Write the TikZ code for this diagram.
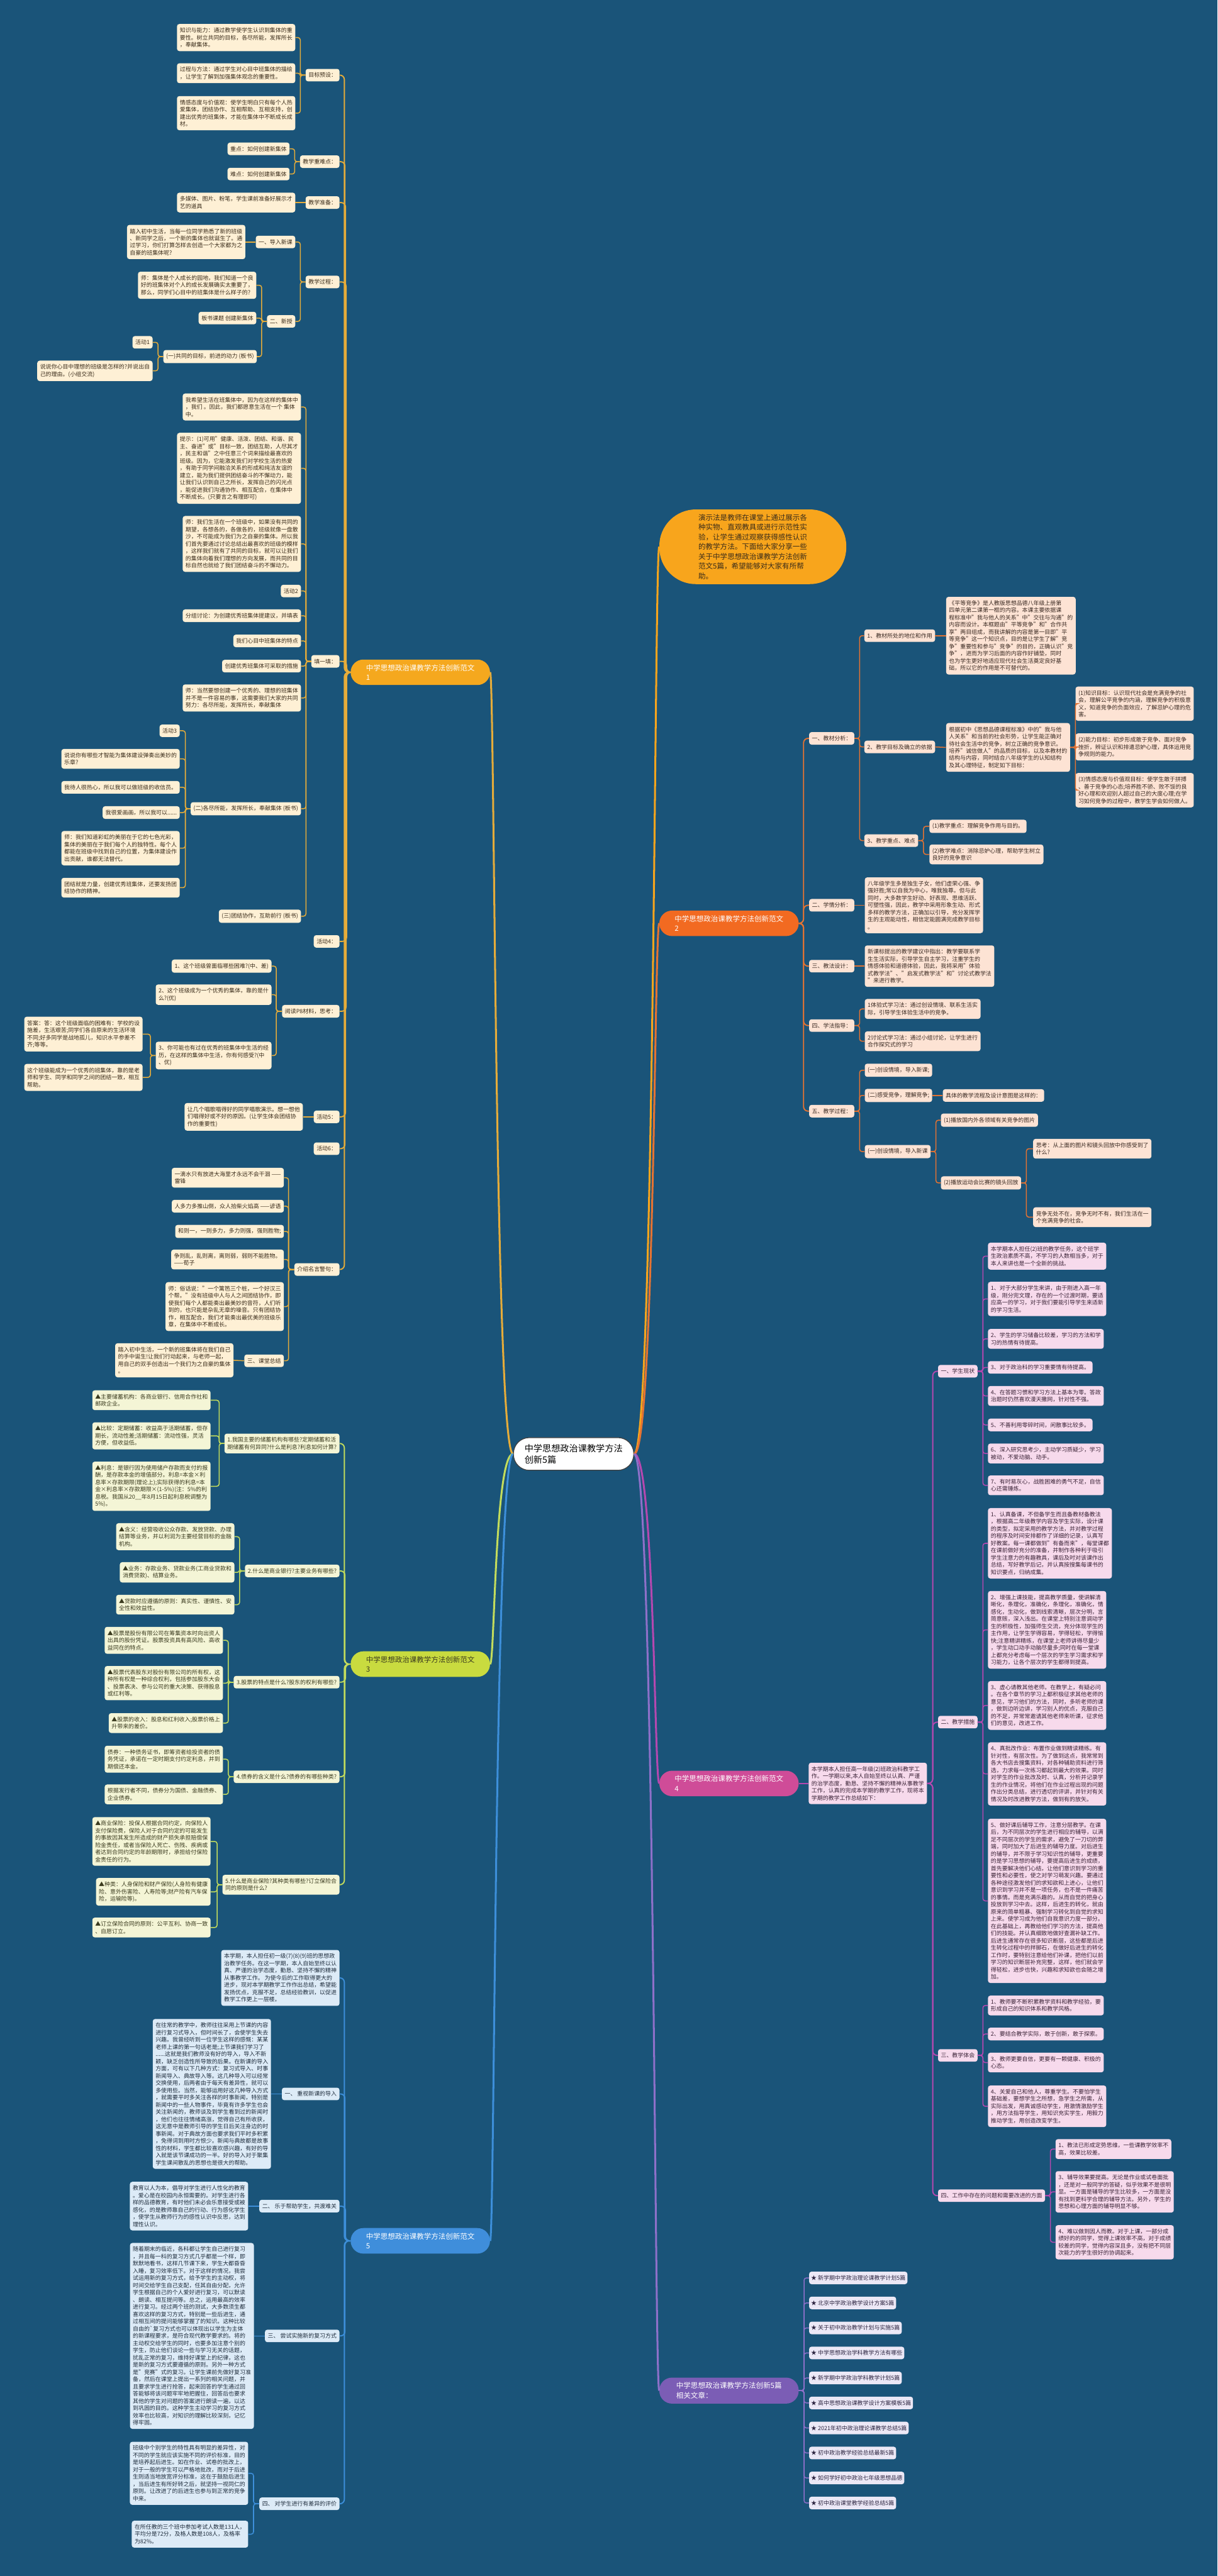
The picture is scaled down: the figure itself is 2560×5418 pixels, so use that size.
\documentclass[tikz,border=0pt]{standalone}
\usepackage{fontspec}
\setmainfont{Noto Sans CJK SC}
\usetikzlibrary{calc}

\definecolor{bg}{HTML}{1A5479}
\definecolor{fillA}{HTML}{FEF0D5}\definecolor{inkA}{HTML}{3A2C1A}\definecolor{lineA}{HTML}{E6AC3A}\definecolor{topA}{HTML}{F5A81E}
\definecolor{fillB}{HTML}{FDE3D4}\definecolor{inkB}{HTML}{3A2A22}\definecolor{lineB}{HTML}{E57332}\definecolor{topB}{HTML}{F26A21}
\definecolor{fillC}{HTML}{F4F5D6}\definecolor{inkC}{HTML}{3A3A1E}\definecolor{lineC}{HTML}{C3DC5C}\definecolor{topC}{HTML}{C9DB3F}
\definecolor{fillD}{HTML}{F7DAEC}\definecolor{inkD}{HTML}{3A2236}\definecolor{lineD}{HTML}{B548B0}\definecolor{topD}{HTML}{CF4C98}
\definecolor{fillE}{HTML}{DDEBF7}\definecolor{inkE}{HTML}{1F2D3D}\definecolor{lineE}{HTML}{3D8FDA}\definecolor{topE}{HTML}{3F8EDB}
\definecolor{fillR}{HTML}{ECE8F6}\definecolor{inkR}{HTML}{2C2440}\definecolor{lineR}{HTML}{8E70C9}\definecolor{topR}{HTML}{7B5DB5}
\definecolor{introfill}{HTML}{F8A51C}

\newcommand\leaffont{\fontsize{10.1}{12.97}\selectfont}
\newcommand\topicfont{\fontsize{13}{17.6}\selectfont}
\newcommand\hubfont{\fontsize{16}{21}\selectfont}

\tikzset{
  leaf/.style={rounded corners=1.5mm, inner xsep=1.8mm, inner ysep=2.3mm, align=left, font=\leaffont},
  boxA/.style={leaf, fill=fillA, text=inkA},
  boxB/.style={leaf, fill=fillB, text=inkB},
  boxC/.style={leaf, fill=fillC, text=inkC},
  boxD/.style={leaf, fill=fillD, text=inkD},
  boxE/.style={leaf, fill=fillE, text=inkE},
  boxR/.style={leaf, fill=fillR, text=inkR},
  topic/.style={rounded corners=8mm, inner xsep=8.4mm, inner ysep=3mm, minimum width=87.9mm, align=left, font=\topicfont},
  linkA/.style={draw=lineA, line width=0.6mm, rounded corners=1.5mm},
  linkB/.style={draw=lineB, line width=0.6mm, rounded corners=1.5mm},
  linkC/.style={draw=lineC, line width=0.6mm, rounded corners=1.5mm},
  linkD/.style={draw=lineD, line width=0.6mm, rounded corners=1.5mm},
  linkE/.style={draw=lineE, line width=0.6mm, rounded corners=1.5mm},
  linkR/.style={draw=lineR, line width=0.6mm, rounded corners=1.5mm},
  trunk/.style={line width=0.75mm, rounded corners=2.8mm},
  hub/.style={line width=1.2mm}
}

\begin{document}
\begin{tikzpicture}[x=0.3mm,y=-0.3mm]
\fill[bg] (0,0) rectangle (2560,5418);
\useasboundingbox (0,0) rectangle (2560,5418);

% ---- centre ----
\node[fill=white, draw=black!75, line width=0.5mm, text=black, rounded corners=10mm, inner xsep=7mm, inner ysep=4mm, align=left, font=\hubfont] (ctr) at (1206,3058) {中学思想政治课教学方法\\创新5篇};

% ---- main topics ----
\node[topic, fill=topA, text=white, anchor=west] (fA) at (737,1414) {中学思想政治课教学方法创新范文\\1};
\node[topic, fill=topB, text=white, anchor=west] (fB) at (1386,1942) {中学思想政治课教学方法创新范文\\2};
\node[topic, fill=topC, text=inkC, anchor=west] (fC) at (737,3500) {中学思想政治课教学方法创新范文\\3};
\node[topic, fill=topD, text=white, anchor=west] (fD) at (1386,3751) {中学思想政治课教学方法创新范文\\4};
\node[topic, fill=topE, text=white, anchor=west] (fE) at (737,4713) {中学思想政治课教学方法创新范文\\5};
\node[topic, fill=topR, text=white, anchor=west] (fR) at (1386,5028) {中学思想政治课教学方法创新5篇\\相关文章：};
\node[fill=introfill, text=inkA, rounded corners=23mm, minimum width=117.9mm, minimum height=47.1mm, align=left, font=\topicfont, anchor=west] (intro) at (1386,1150) {演示法是教师在课堂上通过展示各\\种实物、直观教具或进行示范性实\\验，让学生通过观察获得感性认识\\的教学方法。下面给大家分享一些\\关于中学思想政治课教学方法创新\\范文5篇，希望能够对大家有所帮\\助。};

\draw[hub, lineA] (ctr.west) .. controls (1040,3058) and (1040,1414) .. (fA.east);
\draw[hub, lineC] (ctr.west) .. controls (1040,3058) and (1040,3500) .. (fC.east);
\draw[hub, lineE] (ctr.west) .. controls (1040,3058) and (1040,4713) .. (fE.east);
\draw[hub, introfill] (ctr.east) .. controls (1376,3058) and (1376,1150) .. (intro.west);
\draw[hub, lineB] (ctr.east) .. controls (1376,3058) and (1376,1942) .. (fB.west);
\draw[hub, lineD] (ctr.east) .. controls (1376,3058) and (1376,3751) .. (fD.west);
\draw[hub, lineR] (ctr.east) .. controls (1376,3058) and (1376,5028) .. (fR.west);

% ================= 范文1 =================
\node[boxA, anchor=east] (aG1) at (714,158) {目标预设：};
\node[boxA, anchor=east] (aG2) at (714,340) {教学重难点：};
\node[boxA, anchor=east] (aG3) at (714,426) {教学准备：};
\node[boxA, anchor=east] (aG4) at (714,593) {教学过程：};
\node[boxA, anchor=east] (aG5) at (714,1391) {填一填：};
\node[boxA, anchor=east] (aG6) at (714,1980) {活动4：};
\node[boxA, anchor=east] (aG7) at (714,2127) {阅读P8材料，思考：};
\node[boxA, anchor=east] (aG8) at (714,2349) {活动5：};
\node[boxA, anchor=east] (aG9) at (714,2416) {活动6：};
\node[boxA, anchor=east] (aG10) at (714,2670) {介绍名言警句：};
\foreach \c/\k in {aG1/0,aG2/1,aG3/2,aG4/3,aG5/4,aG6/4,aG7/3,aG8/2,aG9/1,aG10/0}
  \draw[trunk, lineA] (\c.east) -| (724+\k*1.2,1414) -- (fA.west);

\node[boxA, anchor=east] (aK1) at (621,79) {知识与能力：通过教学使学生认识到集体的重\\要性。树立共同的目标，各尽所能，发挥所长\\，奉献集体。};
\node[boxA, anchor=east] (aK2) at (621,154) {过程与方法：通过学生对心目中班集体的描绘\\，让学生了解到加强集体观念的重要性。};
\node[boxA, anchor=east] (aK3) at (621,238) {情感态度与价值观：使学生明白只有每个人热\\爱集体，团结协作、互相帮助、互相支持，创\\建出优秀的班集体，才能在集体中不断成长成\\材。};
\foreach \c in {aK1,aK2,aK3} \draw[linkA] (aG1.west) -- ++(-11,0) |- (\c.east);

\node[boxA, anchor=east] (aZ1) at (609,313) {重点：如何创建新集体};
\node[boxA, anchor=east] (aZ2) at (609,366) {难点：如何创建新集体};
\foreach \c in {aZ1,aZ2} \draw[linkA] (aG2.west) -- ++(-11,0) |- (\c.east);

\node[boxA, anchor=east] (aP1) at (621,426) {多媒体、图片、粉笔，学生课前准备好展示才\\艺的道具};
\draw[linkA] (aG3.west) -- (aP1.east);

\node[boxA, anchor=east] (aS1) at (621,509) {一、导入新课};
\node[boxA, anchor=east] (aS2) at (621,676) {二、新授};
\foreach \c in {aS1,aS2} \draw[linkA] (aG4.west) -- ++(-11,0) |- (\c.east);
\node[boxA, anchor=east] (aS1a) at (516,509) {踏入初中生活，当每一位同学熟悉了新的班级\\、新同学之后，一个新的集体也就诞生了。通\\过学习，你们打算怎样去创造一个大家都为之\\自豪的班集体呢?};
\draw[linkA] (aS1.west) -- (aS1a.east);

\node[boxA, anchor=east] (aN1) at (539,600) {师：集体是个人成长的园地，我们知道一个良\\好的班集体对个人的成长发展确实太重要了，\\那么，同学们心目中的班集体是什么样子的?};
\node[boxA, anchor=east] (aN2) at (539,669) {板书课题 创建新集体};
\node[boxA, anchor=east] (aN3) at (540,750) {(一)共同的目标，前进的动力 (板书)};
\foreach \c in {aN1,aN2,aN3} \draw[linkA] (aS2.west) -- ++(-11,0) |- (\c.east);
\node[boxA, anchor=east] (aN3a) at (321,720) {活动1};
\node[boxA, anchor=east] (aN3b) at (321,780) {说说你心目中理想的班级是怎样的?并说出自\\己的理由。(小组交流)};
\foreach \c in {aN3a,aN3b} \draw[linkA] (aN3.west) -- ++(-11,0) |- (\c.east);

\node[boxA, anchor=east] (aT1) at (633,856) {我希望生活在班集体中，因为在这样的集体中\\，我们 。因此，我们都愿意生活在一个 集体\\中。};
\node[boxA, anchor=east] (aT2) at (633,985) {提示：(1)可用"健康、活泼、团结、和谐、民\\主、奋进"或"目标一致，团结互助，人尽其才\\，民主和谐"之中任意三个词来描绘最喜欢的\\班级。因为，它能激发我们对学校生活的热爱\\，有助于同学间融洽关系的形成和纯洁友谊的\\建立，能为我们提供团结奋斗的不懈动力，能\\让我们认识到自己之所长，发挥自己的闪光点\\，能促进我们沟通协作、相互配合，在集体中\\不断成长。(只要言之有理即可)};
\node[boxA, anchor=east] (aT3) at (633,1144) {师：我们生活在一个班级中，如果没有共同的\\期望，各想各的，各做各的，班级就像一盘散\\沙，不可能成为我们为之自豪的集体。所以我\\们首先要通过讨论总结出最喜欢的班级的模样\\，这样我们就有了共同的目标，就可以让我们\\的集体向着我们理想的方向发展，而共同的目\\标自然也就给了我们团结奋斗的不懈动力。};
\node[boxA, anchor=east] (aT4) at (633,1243) {活动2};
\node[boxA, anchor=east] (aT5) at (633,1295) {分组讨论：为创建优秀班集体提建议，并填表};
\node[boxA, anchor=east] (aT6) at (633,1348) {我们心目中班集体的特点};
\node[boxA, anchor=east] (aT7) at (633,1401) {创建优秀班集体可采取的措施};
\node[boxA, anchor=east] (aT8) at (633,1468) {师：当然要想创建一个优秀的、理想的班集体\\并不是一件容易的事，这需要我们大家的共同\\努力：各尽所能，发挥所长，奉献集体};
\node[boxA, anchor=east] (aT9) at (633,1701) {(二)各尽所能，发挥所长，奉献集体 (板书)};
\node[boxA, anchor=east] (aT10) at (633,1927) {(三)团结协作，互助前行 (板书)};
\foreach \c in {aT1,aT2,aT3,aT4,aT5,aT6,aT7,aT8,aT9,aT10} \draw[linkA] (aG5.west) -- ++(-11,0) |- (\c.east);

\node[boxA, anchor=east] (aU1) at (378,1537) {活动3};
\node[boxA, anchor=east] (aU2) at (378,1596) {说说你有哪些才智能为集体建设弹奏出美妙的\\乐章?};
\node[boxA, anchor=east] (aU3) at (378,1656) {我待人很热心，所以我可以做班级的收信员。};
\node[boxA, anchor=east] (aU4) at (378,1709) {我很爱画画，所以我可以......};
\node[boxA, anchor=east] (aU5) at (378,1784) {师：我们知道彩虹的美丽在于它的七色光彩，\\集体的美丽在于我们每个人的独特性。每个人\\都能在班级中找到自己的位置，为集体建设作\\出贡献，谁都无法替代。};
\node[boxA, anchor=east] (aU6) at (378,1867) {团结就是力量，创建优秀班集体，还要发扬团\\结协作的精神。};
\foreach \c in {aU1,aU2,aU3,aU4,aU5,aU6} \draw[linkA] (aT9.west) -- ++(-11,0) |- (\c.east);

\node[boxA, anchor=east] (aR1) at (571,2032) {1、这个班级曾面临哪些困难?(中、差)};
\node[boxA, anchor=east] (aR2) at (571,2092) {2、这个班级成为一个优秀的集体，靠的是什\\么?(优)};
\node[boxA, anchor=east] (aR3) at (571,2220) {3、你可能也有过在优秀的班集体中生活的经\\历，在这样的集体中生活，你有何感受?(中\\、优)};
\foreach \c in {aR1,aR2,aR3} \draw[linkA] (aG7.west) -- ++(-12,0) |- (\c.east);
\node[boxA, anchor=east] (aR3a) at (300,2175) {答案：答：这个班级面临的困难有：学校的设\\施差，生活艰苦;同学们各自原来的生活环境\\不同;好多同学是战地孤儿，知识水平参差不\\齐;等等。};
\node[boxA, anchor=east] (aR3b) at (300,2266) {这个班级能成为一个优秀的班集体，靠的是老\\师和学生、同学和同学之间的团结一致，相互\\帮助。};
\foreach \c in {aR3a,aR3b} \draw[linkA] (aR3.west) -- ++(-11,0) |- (\c.east);

\node[boxA, anchor=east] (aH5) at (637,2349) {让几个唱歌唱得好的同学唱歌演示。想一想他\\们唱得好或不好的原因。(让学生体会团结协\\作的重要性)};
\draw[linkA] (aG8.west) -- (aH5.east);

\node[boxA, anchor=east] (aM1) at (597,2477) {一滴水只有放进大海里才永远不会干涸 ——\\雷锋};
\node[boxA, anchor=east] (aM2) at (597,2537) {人多力多推山倒，众人拾柴火焰高 ——谚语};
\node[boxA, anchor=east] (aM3) at (597,2590) {和则一，一则多力，多力则强，强则胜物;};
\node[boxA, anchor=east] (aM4) at (597,2649) {争则乱，乱则离，离则弱，弱则不能胜物。\\——荀子};
\node[boxA, anchor=east] (aM5) at (597,2748) {师：俗话说："一个篱笆三个桩，一个好汉三\\个帮。"没有班级中人与人之间团结协作，即\\使我们每个人都能奏出最美妙的音符，人们听\\到的，也只能是杂乱无章的噪音。只有团结协\\作，相互配合，我们才能奏出最优美的班级乐\\章，在集体中不断成长。};
\node[boxA, anchor=east] (aM6) at (597,2862) {三、课堂总结};
\foreach \c in {aM1,aM2,aM3,aM4,aM5,aM6} \draw[linkA] (aG10.west) -- ++(-12,0) |- (\c.east);
\node[boxA, anchor=east] (aM6a) at (491,2861) {踏入初中生活，一个新的班集体将在我们自己\\的手中诞生!让我们行动起来，与老师一起，\\用自己的双手创造出一个我们为之自豪的集体\\。};
\draw[linkA] (aM6.west) -- (aM6a.east);

% ================= 范文2 =================
\node[boxB, anchor=west] (bG1) at (1701,1553) {一、教材分析：};
\node[boxB, anchor=west] (bG2) at (1701,1904) {二、学情分析：};
\node[boxB, anchor=west] (bG3) at (1701,2032) {三、教法设计：};
\node[boxB, anchor=west] (bG4) at (1701,2157) {四、学法指导：};
\node[boxB, anchor=west] (bG5) at (1701,2337) {五、教学过程：};
\foreach \c in {bG1,bG2,bG3,bG4,bG5} \draw[trunk, lineB] (fB.east) -- ++(10,0) |- (\c.west);

\node[boxB, anchor=west] (bA1) at (1817,1337) {1、教材所处的地位和作用};
\node[boxB, anchor=west] (bA2) at (1817,1571) {2、教学目标及确立的依据};
\node[boxB, anchor=west] (bA3) at (1817,1768) {3、教学重点、难点};
\foreach \c in {bA1,bA2,bA3} \draw[linkB] (bG1.east) -- ++(11,0) |- (\c.west);
\node[boxB, anchor=west] (bA1a) at (1989,1337) {《平等竞争》是人教版思想品德八年级上册第\\四单元第二课第一框的内容。本课主要依据课\\程标准中"我与他人的关系"中"交往与沟通"的\\内容而设计。本框题由"平等竞争"和"合作共\\享"两目组成，而我讲解的内容是第一目即"平\\等竞争"这一个知识点，目的是让学生了解"竞\\争"重要性和参与"竞争"的目的，正确认识"竞\\争"，进而为学习后面的内容作好铺垫，同时\\也为学生更好地适应现代社会生活奠定良好基\\础，所以它的作用是不可替代的。};
\draw[linkB] (bA1.east) -- (bA1a.west);
\node[boxB, anchor=west] (bA2a) at (1989,1572) {根据初中《思想品德课程标准》中的"我与他\\人关系"和当前的社会形势，让学生能正确对\\待社会生活中的竞争，树立正确的竞争意识。\\培养"诚信做人"的品质的目标，以及本教材的\\结构与内容，同时结合八年级学生的认知结构\\及其心理特征，制定如下目标：};
\draw[linkB] (bA2.east) -- (bA2a.west);
\node[boxB, anchor=west] (bO1) at (2261,1480) {(1)知识目标：认识现代社会是充满竞争的社\\会，理解公平竞争的内涵，理解竞争的积极意\\义，知道竞争的负面效应，了解忌妒心理的危\\害。};
\node[boxB, anchor=west] (bO2) at (2261,1571) {(2)能力目标：初步形成敢于竞争、面对竞争\\挫折，辨证认识和排遣忌妒心理，具体运用竞\\争规则的能力。};
\node[boxB, anchor=west] (bO3) at (2261,1662) {(3)情感态度与价值观目标：使学生敢于拼搏\\、善于竞争的心态;培养胜不骄、败不馁的良\\好心理和欢迎别人超过自己的大度心理;在学\\习如何竞争的过程中，教学生学会如何做人。};
\foreach \c in {bO1,bO2,bO3} \draw[linkB] (bA2a.east) -- ++(11,0) |- (\c.west);
\node[boxB, anchor=west] (bD1) at (1954,1738) {(1)教学重点：理解竞争作用与目的。};
\node[boxB, anchor=west] (bD2) at (1954,1797) {(2)教学难点：消除忌妒心理，帮助学生树立\\良好的竞争意识};
\foreach \c in {bD1,bD2} \draw[linkB] (bA3.east) -- ++(11,0) |- (\c.west);

\node[boxB, anchor=west] (bX) at (1818,1904) {八年级学生多是独生子女，他们虚荣心强、争\\强好胜;常以自我为中心，唯我独尊。但与此\\同时，大多数学生好动、好表现、思维活跃、\\可塑性强，因此，教学中采用形象生动、形式\\多样的教学方法，正确加以引导，充分发挥学\\生的主观能动性，相信定能圆满完成教学目标\\。};
\draw[linkB] (bG2.east) -- (bX.west);
\node[boxB, anchor=west] (bY) at (1818,2032) {新课标提出的教学建议中指出：教学要联系学\\生生活实际，引导学生自主学习，注重学生的\\情感体验和道德体验，因此，我将采用"体验\\式教学法"、"启发式教学法"和"讨论式教学法\\"来进行教学。};
\draw[linkB] (bG3.east) -- (bY.west);
\node[boxB, anchor=west] (bF1) at (1818,2122) {1体验式学习法：通过创设情境、联系生活实\\际，引导学生体验生活中的竞争。};
\node[boxB, anchor=west] (bF2) at (1818,2190) {2讨论式学习法：通过小组讨论，让学生进行\\合作探究式的学习};
\foreach \c in {bF1,bF2} \draw[linkB] (bG4.east) -- ++(11,0) |- (\c.west);

\node[boxB, anchor=west] (bP1) at (1818,2251) {(一)创设情境，导入新课;};
\node[boxB, anchor=west] (bP2) at (1818,2304) {(二)感受竞争，理解竞争;};
\node[boxB, anchor=west] (bP3) at (1818,2422) {(一)创设情境，导入新课};
\foreach \c in {bP1,bP2,bP3} \draw[linkB] (bG5.east) -- ++(11,0) |- (\c.west);
\node[boxB, anchor=west] (bP2a) at (1982,2304) {具体的教学流程及设计意图是这样的：};
\draw[linkB] (bP2.east) -- (bP2a.west);
\node[boxB, anchor=west] (bQ1) at (1978,2356) {(1)播放国内外各领域有关竞争的图片};
\node[boxB, anchor=west] (bQ2) at (1978,2488) {(2)播放运动会比赛的镜头回放};
\foreach \c in {bQ1,bQ2} \draw[linkB] (bP3.east) -- ++(11,0) |- (\c.west);
\node[boxB, anchor=west] (bQ2a) at (2172,2416) {思考：从上面的图片和镜头回放中你感受到了\\什么?};
\node[boxB, anchor=west] (bQ2b) at (2172,2560) {竞争无处不在，竞争无时不有，我们生活在一\\个充满竞争的社会。};
\foreach \c in {bQ2a,bQ2b} \draw[linkB] (bQ2.east) -- ++(11,0) |- (\c.west);

% ================= 范文3 =================
\node[boxC, anchor=east] (cQ1) at (714,3036) {1.我国主要的储蓄机构有哪些?定期储蓄和活\\期储蓄有何异同?什么是利息?利息如何计算?};
\node[boxC, anchor=east] (cQ2) at (714,3304) {2.什么是商业银行?主要业务有哪些?};
\node[boxC, anchor=east] (cQ3) at (714,3538) {3.股票的特点是什么?股东的权利有哪些?};
\node[boxC, anchor=east] (cQ4) at (714,3737) {4.债券的含义是什么?债券的有哪些种类?};
\node[boxC, anchor=east] (cQ5) at (714,3964) {5.什么是商业保险?其种类有哪些?订立保险合\\同的原则是什么?};
\foreach \c/\k in {cQ1/0,cQ2/1,cQ3/2,cQ4/1,cQ5/0}
  \draw[trunk, lineC] (\c.east) -| (724+\k*1.2,3500) -- (fC.west);

\node[boxC, anchor=east] (c11) at (443,2945) {▲主要储蓄机构：各商业银行、信用合作社和\\邮政企业。};
\node[boxC, anchor=east] (c12) at (443,3020) {▲比较：定期储蓄：收益高于活期储蓄，但存\\期长，流动性差;活期储蓄：流动性强，灵活\\方便，但收益低。};
\node[boxC, anchor=east] (c13) at (443,3126) {▲利息：是银行因为使用储户存款而支付的报\\酬，是存款本金的增值部分。利息=本金×利\\息率×存款期限(理论上);实际获得的利息=本\\金×利息率×存款期限×(1-5\%)(注：5\%的利\\息税。我国从20\_\_年8月15日起利息税调整为\\5\%)。};
\foreach \c in {c11,c12,c13} \draw[linkC] (cQ1.west) -- ++(-11,0) |- (\c.east);
\node[boxC, anchor=east] (c21) at (493,3232) {▲含义：经营吸收公众存款、发放贷款、办理\\结算等业务，并以利润为主要经营目标的金融\\机构。};
\node[boxC, anchor=east] (c22) at (493,3307) {▲业务：存款业务、贷款业务(工商业贷款和\\消费贷款)、结算业务。};
\node[boxC, anchor=east] (c23) at (493,3375) {▲贷款时应遵循的原则：真实性、谨慎性、安\\全性和效益性。};
\foreach \c in {c21,c22,c23} \draw[linkC] (cQ2.west) -- ++(-11,0) |- (\c.east);
\node[boxC, anchor=east] (c31) at (469,3450) {▲股票是股份有限公司在筹集资本时向出资人\\出具的股份凭证。股票投资具有高风险、高收\\益同在的特点。};
\node[boxC, anchor=east] (c32) at (469,3540) {▲股票代表股东对股份有限公司的所有权，这\\种所有权是一种综合权利，包括参加股东大会\\、投票表决、参与公司的重大决策、获得股息\\或红利等。};
\node[boxC, anchor=east] (c33) at (469,3624) {▲股票的收入：股息和红利收入;股票价格上\\升带来的差价。};
\foreach \c in {c31,c32,c33} \draw[linkC] (cQ3.west) -- ++(-11,0) |- (\c.east);
\node[boxC, anchor=east] (c41) at (469,3700) {债券：一种债务证书，即筹资者给投资者的债\\务凭证，承诺在一定时期支付约定利息，并到\\期偿还本金。};
\node[boxC, anchor=east] (c42) at (469,3774) {根据发行者不同，债券分为国债、金融债券、\\企业债券。};
\foreach \c in {c41,c42} \draw[linkC] (cQ4.west) -- ++(-11,0) |- (\c.east);
\node[boxC, anchor=east] (c51) at (443,3873) {▲商业保险：投保人根据合同约定，向保险人\\支付保险费，保险人对于合同约定的可能发生\\的事故因其发生所造成的财产损失承担赔偿保\\险金责任，或者当保险人死亡、伤残、疾病或\\者达到合同约定的年龄期限时，承担给付保险\\金责任的行为。};
\node[boxC, anchor=east] (c52) at (443,3979) {▲种类：人身保险和财产保险(人身险有健康\\险、意外伤害险、人寿险等;财产险有汽车保\\险，运输险等)。};
\node[boxC, anchor=east] (c53) at (443,4054) {▲订立保险合同的原则：公平互利、协商一致\\、自愿订立。};
\foreach \c in {c51,c52,c53} \draw[linkC] (cQ5.west) -- ++(-11,0) |- (\c.east);

% ================= 范文4 =================
\node[boxD, anchor=west] (dBox) at (1700,3751) {本学期本人担任高一年级(2)班政治科教学工\\作。一学期以来,本人自始至终以认真、严谨\\的治学态度，勤恳、坚持不懈的精神从事教学\\工作，认真的完成本学期的教学工作，现将本\\学期的教学工作总结如下：};
\draw[trunk, lineD] (fD.east) -- (dBox.west);
\node[boxD, anchor=west] (dS1) at (1972,2884) {一、学生现状};
\node[boxD, anchor=west] (dS2) at (1972,3622) {二、教学措施};
\node[boxD, anchor=west] (dS3) at (1972,4323) {三、教学体会};
\node[boxD, anchor=west] (dS4) at (1972,4618) {四、工作中存在的问题和需要改进的方面};
\foreach \c in {dS1,dS2,dS3,dS4} \draw[trunk, lineD] (dBox.east) -- ++(12,0) |- (\c.west);

\node[boxD, anchor=west] (d10) at (2077,2642) {本学期本人担任(2)班的教学任务，这个班学\\生政治素质不高，不学习的人数相当多，对于\\本人来讲也是一个全新的挑战。};
\node[boxD, anchor=west] (d11) at (2077,2732) {1、对于大部分学生来讲，由于刚进入高一年\\级，刚分完文理，存在的一个过渡时期，要适\\应高一的学习，对于我们要能引导学生来适新\\的学习生活。};
\node[boxD, anchor=west] (d12) at (2077,2816) {2、学生的学习储备比较差，学习的方法和学\\习的热情有待提高。};
\node[boxD, anchor=west] (d13) at (2077,2876) {3、对于政治科的学习重要情有待提高。};
\node[boxD, anchor=west] (d14) at (2077,2936) {4、在答题习惯和学习方法上基本为零。答政\\治题时仍然喜欢漫天撒网，针对性不强。};
\node[boxD, anchor=west] (d15) at (2077,2997) {5、不善利用零碎时间，闲散事比较多。};
\node[boxD, anchor=west] (d16) at (2077,3057) {6、深入研究思考少，主动学习质疑少，学习\\被动，不爱动脑、动手。};
\node[boxD, anchor=west] (d17) at (2077,3124) {7、有时易灰心，战胜困难的勇气不足，自信\\心还需锤炼。};
\foreach \c in {d10,d11,d12,d13,d14,d15,d16,d17} \draw[linkD] (dS1.east) -- ++(11,0) |- (\c.west);

\node[boxD, anchor=west] (d21) at (2077,3246) {1、认真备课，不但备学生而且备教材备教法\\，根据高二年级教学内容及学生实际，设计课\\的类型，拟定采用的教学方法，并对教学过程\\的程序及时间安排都作了详细的记录，认真写\\好教案。每一课都做到"有备而来"，每堂课都\\在课前做好充分的准备，并制作各种利于吸引\\学生注意力的有趣教具，课后及时对该课作出\\总结，写好教学后记，并认真按搜集每课书的\\知识要点，归纳成集。};
\node[boxD, anchor=west] (d22) at (2077,3428) {2、增强上课技能，提高教学质量，使讲解清\\晰化，条理化，准确化，条理化，准确化，情\\感化，生动化，做到线索清晰，层次分明，言\\简意赅，深入浅出。在课堂上特别注意调动学\\生的积极性，加强师生交流，充分体现学生的\\主作用，让学生学得容易，学得轻松，学得愉\\快;注意精讲精练，在课堂上老师讲得尽量少\\，学生动口动手动脑尽量多;同时在每一堂课\\上都充分考虑每一个层次的学生学习需求和学\\习能力，让各个层次的学生都得到提高。};
\node[boxD, anchor=west] (d23) at (2077,3587) {3、虚心请教其他老师。在教学上，有疑必问\\。在各个章节的学习上都积极征求其他老师的\\意见，学习他们的方法，同时，多听老师的课\\，做到边听边讲，学习别人的优点，克服自己\\的不足，并常常邀请其他老师来听课，征求他\\们的意见，改进工作。};
\node[boxD, anchor=west] (d24) at (2077,3731) {4、真批改作业：布置作业做到精读精练。有\\针对性，有层次性。为了做到这点，我常常到\\各大书店去搜集资料，对各种辅助资料进行筛\\选，力求每一次练习都起到最大的效果。同时\\对学生的作业批改及时、认真，分析并记录学\\生的作业情况，将他们在作业过程出现的问题\\作出分类总结，进行透切的评讲，并针对有关\\情况及时改进教学方法，做到有的放矢。};
\node[boxD, anchor=west] (d25) at (2077,3998) {5、做好课后辅导工作，注意分层教学。在课\\后，为不同层次的学生进行相应的辅导，以满\\足不同层次的学生的需求，避免了一刀切的弊\\端，同时加大了后进生的辅导力度。对后进生\\的辅导，并不限于学习知识性的辅导，更重要\\的是学习思想的辅导，要提高后进生的成绩，\\首先要解决他们心结，让他们意识到学习的重\\要性和必要性，使之对学习萌发兴趣。要通过\\各种途径激发他们的求知欲和上进心，让他们\\意识到学习并不是一项任务，也不是一件痛苦\\的事情。而是充满乐趣的。从而自觉的把身心\\投放到学习中去。这样，后进生的转化，就由\\原来的简单粗暴、强制学习转化到自觉的求知\\上来。使学习成为他们自我意识力度一部分。\\在此基础上，再教给他们学习的方法，提高他\\们的技能。并认真细致地做好查漏补缺工作。\\后进生通常存在很多知识断层，这些都是后进\\生转化过程中的拌脚石，在做好后进生的转化\\工作时，要特别注意给他们补课，把他们以前\\学习的知识断层补充完整，这样，他们就会学\\得轻松，进步也快，兴趣和求知欲也会随之增\\加。};
\foreach \c in {d21,d22,d23,d24,d25} \draw[linkD] (dS2.east) -- ++(11,0) |- (\c.west);

\node[boxD, anchor=west] (d31) at (2077,4218) {1、教师要不断积累教学资料和教学经验，要\\形成自己的知识体系和教学风格。};
\node[boxD, anchor=west] (d32) at (2077,4278) {2、要结合教学实际，敢于创新，敢于探索。};
\node[boxD, anchor=west] (d33) at (2077,4338) {3、教师更要自信，更要有一颗健康、积极的\\心态。};
\node[boxD, anchor=west] (d34) at (2077,4430) {4、关爱自己和他人，尊重学生。不要怕学生\\基础差，要想学生之所想，急学生之所需，从\\实际出发，用真诚感动学生，用激情激励学生\\，用方法指导学生，用知识充实学生，用毅力\\推动学生，用创造改变学生。};
\foreach \c in {d31,d32,d33,d34} \draw[linkD] (dS3.east) -- ++(11,0) |- (\c.west);

\node[boxD, anchor=west] (d41) at (2219,4520) {1、教法已形成定势思维，一些课教学效率不\\高，效果比较差。};
\node[boxD, anchor=west] (d43) at (2219,4610) {3、辅导效果要提高。无论是作业或试卷面批\\，还是对一般同学的答疑，似乎效果不是很明\\显。一方面是辅导的学生比较多，一方面是没\\有找到更科学合理的辅导方法。另外，学生的\\思想和心理方面的辅导明显不够。};
\node[boxD, anchor=west] (d44) at (2219,4716) {4、难以做到因人而教。对于上课，一部分成\\绩好的的同学，觉得上课效率不高，对于成绩\\较差的同学，觉得内容深且多，没有把不同层\\次能力的学生很好的协调起来。};
\foreach \c in {d41,d43,d44} \draw[linkD] (dS4.east) -- ++(11,0) |- (\c.west);

% ================= 范文5 =================
\node[boxE, anchor=east] (eIntro) at (714,4160) {本学期，本人担任初一级(7)(8)(9)班的思想政\\治教学任务。在这一学期，本人自始至终以认\\真、严谨的治学态度，勤恳、坚持不懈的精神\\从事教学工作。 为使今后的工作取得更大的\\进步，现对本学期教学工作作出总结，希望能\\发扬优点，克服不足，总结经验教训，以促进\\教学工作更上一层楼。};
\node[boxE, anchor=east] (eS1) at (714,4404) {一、 重视新课的导入};
\node[boxE, anchor=east] (eS2) at (714,4640) {二、 乐于帮助学生，共渡难关};
\node[boxE, anchor=east] (eS3) at (714,4913) {三、 尝试实施新的复习方式};
\node[boxE, anchor=east] (eS4) at (714,5266) {四、 对学生进行有差异的评价};
\foreach \c/\k in {eIntro/0,eS1/1,eS2/2,eS3/1,eS4/0}
  \draw[trunk, lineE] (\c.east) -| (724+\k*1.2,4713) -- (fE.west);

\node[boxE, anchor=east] (e1) at (570,4404) {在往常的教学中，教师往往采用上节课的内容\\进行复习式导入，但时间长了，会使学生失去\\兴趣。我曾经听到一位学生这样的感慨：某某\\老师上课的第一句话老是;上节课我们学习了\\......这就是我们教师没有好的导入，导入不新\\颖，缺乏创造性所导致的后果。在新课的导入\\方面，可有以下几种方式：复习式导入、时事\\新闻导入、典故导入等。这几种导入可以经常\\交换使用，后两者由于每天有差异性，就可以\\多使用些。当然，能够运用好这几种导入方式\\，就需要平时多关注各样的时事新闻，特别是\\新闻中的一些人物事件，毕竟有许多学生也会\\关注新闻的，教师谈及到学生看到过的新闻时\\，他们也往往情绪高涨，觉得自己有所收获，\\这无意中是教师引导的学生日后关注身边的时\\事新闻。对于典故方面也要求我们平时多积累\\，免得词到用时方恨少。新闻与典故都是故事\\性的材料，学生都比较喜欢感兴趣，有好的导\\入就是该节课成功的一半。好的导入对于聚集\\学生课间散乱的思想也是很大的帮助。};
\draw[linkE] (eS1.west) -- (e1.east);
\node[boxE, anchor=east] (e2) at (522,4640) {教育以人为本，倡导对学生进行人性化的教育\\。爱心是在校园内永恒需要的。对学生进行各\\样的品德教育，有时他们未必会乐意接受或被\\感化，的是教师靠自己的行动、行为感化学生\\，使学生从教师行为的感性认识中反思，达到\\理性认识。};
\draw[linkE] (eS2.west) -- (e2.east);
\node[boxE, anchor=east] (e3) at (534,4913) {随着期末的临近，各科都让学生自己进行复习\\，并且每一科的复习方式几乎都是一个样，即\\默默地看书，这样几节课下来，学生大都昏昏\\入睡，复习效率低下。对于这样的情况，我尝\\试运用新的复习方式，给予学生的主动权，将\\时间交给学生自己支配，任其自由分配，允许\\学生根据自己的个人爱好进行复习，可以默读\\、朗读、相互提问等。总之，运用最高的效率\\进行复习。经过两个班的测试，大多数须生都\\喜欢这样的复习方式，特别是一些后进生，通\\过相互间的提问能够掌握了的知识。这种比较\\自由的\textasciigrave 复习方式也可以体现出以学生为主体\\的新课程要求，是符合现代教学要求的。将的\\主动权交给学生的同时，也要多加注意个别的\\学生，防止他们谈论一些与学习无关的话题，\\扰乱正常的复习，维持好课堂上的纪律，这也\\是新的复习方式要遵循的原则。另外一种方式\\是"竞赛"式的复习。让学生课前先做好复习准\\备，然后在课堂上提出一系列的相关问题，并\\且要求学生进行抢答，起来回答的学生通过回\\答能够将该问题牢牢地把握住，回答后也要求\\其他的学生对问题的答案进行朗读一遍，以达\\到巩固的目的。这种学生主动学习的复习方式\\效率也比较高，对知识的理解比较深刻，记忆\\得牢固。};
\draw[linkE] (eS3.west) -- (e3.east);
\node[boxE, anchor=east] (e41) at (522,5202) {班级中个别学生的特性具有明显的差异性，对\\不同的学生就应该实施不同的评价标准，目的\\是培养起后进生。如在作业、试卷的批改上，\\对于一般的学生可以严格地批改，而对于后进\\生则适当地放宽评分标准，这在于鼓励后进生\\，当后进生有所好转之后，就坚持一视同仁的\\原则。让改进了的后进生也参与到正常的竞争\\中来。};
\node[boxE, anchor=east] (e42) at (522,5330) {在所任教的三个班中参加考试人数是131人，\\平均分是72分，及格人数是108人，及格率\\为82\%。};
\foreach \c in {e41,e42} \draw[linkE] (eS4.west) -- ++(-12,0) |- (\c.east);

% ================= 相关文章 =================
\foreach \t [count=\i] in {★ 新学期中学政治理论课教学计划5篇,★ 北京中学政治教学设计方案5篇,★ 关于初中政治教学计划与实施5篇,★ 中学思想政治学科教学方法有哪些,★ 新学期中学政治学科教学计划5篇,★ 高中思想政治课教学设计方案模板5篇,★ 2021年初中政治理论课教学总结5篇,★ 初中政治教学经验总结最新5篇,★ 如何学好初中政治七年级思想品德,★ 初中政治课堂教学经验总结5篇}{
  \node[boxR, anchor=west, inner xsep=1.2mm] (r\i) at (1701,4791+\i*52.6-52.6) {\t};
  \draw[linkR] (fR.east) -- ++(11,0) |- (r\i.west);
}
\end{tikzpicture}
\end{document}
